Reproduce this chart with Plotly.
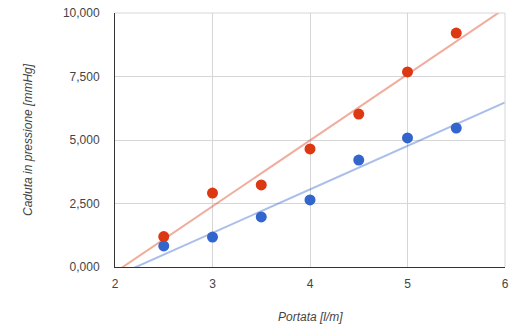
import numpy as np
import plotly.graph_objects as go

portata = [2.5, 3.0, 3.5, 4.0, 4.5, 5.0, 5.5]
caduta_rossa = [1.20, 2.91, 3.23, 4.65, 6.02, 7.68, 9.21]
caduta_blu = [0.83, 1.18, 1.97, 2.64, 4.21, 5.08, 5.47]

x_ticks = [2, 3, 4, 5, 6]
y_ticks = [0, 2.5, 5, 7.5, 10]
y_ticklabels = ["0,000", "2,500", "5,000", "7,500", "10,000"]

RED = "#dc3912"
BLUE = "#3366cc"

fig = go.Figure()

# linear trendlines fitted to the data
xt = np.array([2.0, 6.0])
for ys, col in [(caduta_blu, "rgba(51,102,204,0.42)"), (caduta_rossa, "rgba(220,57,18,0.42)")]:
    m, q = np.polyfit(portata, ys, 1)
    fig.add_trace(go.Scatter(x=xt, y=m * xt + q, mode="lines",
                             line=dict(color=col, width=2), hoverinfo="skip",
                             showlegend=False))

fig.add_trace(go.Scatter(x=portata, y=caduta_blu, mode="markers",
                         marker=dict(color=BLUE, size=11), showlegend=False))
fig.add_trace(go.Scatter(x=portata, y=caduta_rossa, mode="markers",
                         marker=dict(color=RED, size=11), showlegend=False))

font = "Liberation Sans, Arial, sans-serif"
fig.update_layout(
    width=520, height=327,
    margin=dict(l=115, r=15, t=13, b=60),
    paper_bgcolor="white", plot_bgcolor="white",
    font=dict(family=font, size=12, color="#444"),
    xaxis=dict(range=[2, 6], tickvals=x_ticks, showgrid=True, gridcolor="#d6d6d6",
               zeroline=False, showline=True, linecolor="#333", linewidth=1,
               ticks="", ticklabelstandoff=6, automargin=False),
    yaxis=dict(range=[0, 10], tickvals=y_ticks, ticktext=y_ticklabels, showgrid=True,
               gridcolor="#d6d6d6", zeroline=False, showline=True, linecolor="#333",
               linewidth=1, ticks="", ticklabelstandoff=12, automargin=False),
    shapes=[
        dict(type="line", xref="paper", yref="paper", x0=1, x1=1, y0=0, y1=1,
             line=dict(color="#d6d6d6", width=1)),
        dict(type="line", xref="paper", yref="paper", x0=0, x1=1, y0=1, y1=1,
             line=dict(color="#d6d6d6", width=1)),
    ],
    annotations=[
        dict(text="<i>Portata [l/m]</i>", xref="paper", yref="paper", x=0.5, y=-50 / 254,
             yanchor="middle", xanchor="center", showarrow=False,
             font=dict(size=12, color="#444")),
        dict(text="<i>Caduta in pressione [mmHg]</i>", xref="paper", yref="paper",
             x=-87 / 390, y=0.5, xanchor="center", yanchor="middle", textangle=-90,
             showarrow=False, font=dict(size=12, color="#444")),
    ],
)

fig.write_html("out.html", config={"displayModeBar": False},
               post_script="document.body.style.margin='0';document.body.style.overflow='hidden';")
